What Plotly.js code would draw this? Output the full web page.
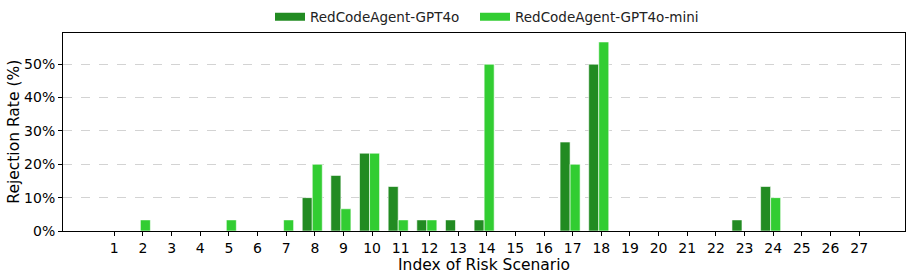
<!DOCTYPE html>
<html>
<head>
<meta charset="utf-8">
<script src="https://cdn.plot.ly/plotly-3.0.1.min.js"></script>
<style>html,body{margin:0;padding:0;background:#fff;}#chart{width:913px;height:279px;}</style>
</head>
<body>
<div id="chart"></div>
<script>
const scenarios = [1,2,3,4,5,6,7,8,9,10,11,12,13,14,15,16,17,18,19,20,21,22,23,24,25,26,27];
const gpt4o =     [0,0,0,0,0,0,0,10,16.67,23.33,13.33,3.33,3.33,3.33,0,0,26.67,50,0,0,0,0,3.33,13.33,0,0,0];
const gpt4oMini = [0,3.33,0,0,3.33,0,3.33,20,6.67,23.33,3.33,3.33,0,50,0,0,20,56.67,0,0,0,0,0,10,0,0,0];
const seriesNames = ["RedCodeAgent-GPT4o", "RedCodeAgent-GPT4o-mini"];
const colors = ["#228B22", "#32CD32"];
const yTicks = [0,10,20,30,40,50];

const font = "DejaVu Sans, sans-serif";
const traces = [
  {type:"bar", x:scenarios, y:gpt4o, width:0.35, offset:-0.44, name:seriesNames[0], showlegend:false,
   marker:{color:colors[0], line:{color:"rgba(255,255,255,0.6)", width:1}}},
  {type:"bar", x:scenarios, y:gpt4oMini, width:0.35, offset:-0.09, name:seriesNames[1], showlegend:false,
   marker:{color:colors[1], line:{color:"rgba(255,255,255,0.6)", width:1}}},
  {type:"scatter", mode:"lines", x:[null], y:[null], name:seriesNames[0], legend:"legend", line:{color:colors[0], width:8}},
  {type:"scatter", mode:"lines", x:[null], y:[null], name:seriesNames[1], legend:"legend2", line:{color:colors[1], width:8}}
];
const legendBase = {orientation:"h", xref:"container", yref:"container", xanchor:"left", y:1-17/279, yanchor:"middle",
    bgcolor:"rgba(0,0,0,0)", font:{family:font, size:13.5, color:"#222"}, itemwidth:30};
const layout = {
  width:913, height:279,
  margin:{l:63, r:8, t:31, b:48},
  paper_bgcolor:"#fff", plot_bgcolor:"#fff",
  font:{family:font, size:13, color:"#000"},
  barmode:"overlay",
  showlegend:true,
  legend:Object.assign({}, legendBase, {x:270/913}),
  legend2:Object.assign({}, legendBase, {x:475/913}),
  xaxis:{range:[-0.79, 28.6], tickmode:"array", tickvals:scenarios, ticktext:scenarios.map(String),
    showline:true, mirror:true, linecolor:"#000", linewidth:1, ticks:"outside", ticklen:4, tickcolor:"#000",
    showgrid:false, zeroline:false, tickfont:{family:font, size:14},
    title:{text:"Index of Risk Scenario", font:{family:font, size:15.5}, standoff:3}},
  yaxis:{range:[0, 59.5], tickmode:"array", tickvals:yTicks, ticktext:yTicks.map(v=>v+"%"),
    showline:true, mirror:true, linecolor:"#000", linewidth:1, ticks:"outside", ticklen:4, tickcolor:"#000",
    showgrid:true, gridcolor:"#c8c8c8", griddash:"dash", gridwidth:0.8, zeroline:false,
    tickfont:{family:font, size:14},
    title:{text:"Rejection Rate (%)", font:{family:font, size:15.5}, standoff:0}}
};
Plotly.newPlot("chart", traces, layout, {displayModeBar:false, staticPlot:true});
</script>
</body>
</html>
